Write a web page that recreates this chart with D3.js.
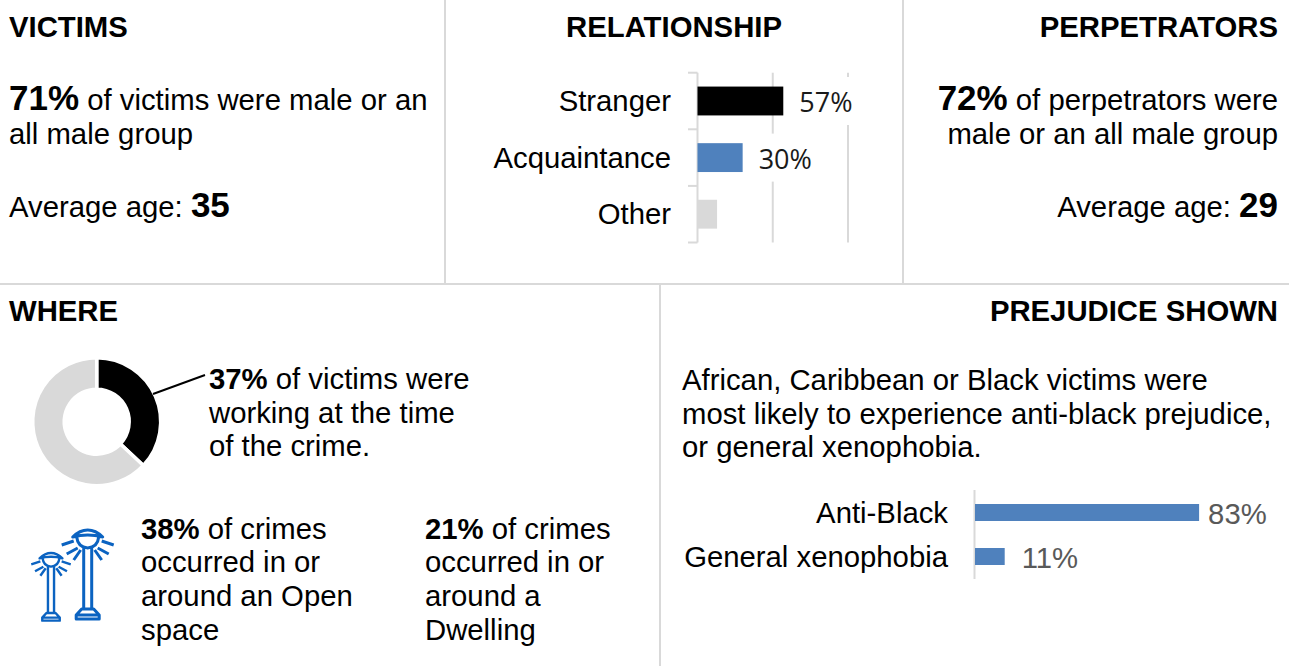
<!DOCTYPE html>
<html>
<head>
<meta charset="utf-8">
<script src="https://cdn.jsdelivr.net/npm/d3@7"></script>
<style>
html,body{margin:0;padding:0;background:#fff}
svg{display:block}
text{font-family:"Liberation Sans",Arial,sans-serif;fill:#000}
</style>
</head>
<body>
<svg id="chart" width="1289" height="666"></svg>
<script>
// Relationship between victim and perpetrator (share of cases)
const relationCategories = ["Stranger", "Acquaintance", "Other"];
const relationValues = [57, 30, 13];
const relationLabels = ["57%", "30%", null];
const relationColors = ["#000000", "#4f81bd", "#d9d9d9"];
const relationTicks = [0, 50, 100];

// Prejudice shown
const prejudiceCategories = ["Anti-Black", "General xenophobia"];
const prejudiceValues = [83, 11];

// Victims working at the time of the crime
const workingValues = [37, 63];
const workingColors = ["#000000", "#d9d9d9"];

const svg = d3.select("#chart");
const ruleColor = "#d9d9d9";
const HEAD = 29.3, BODY = 29.3, BIG = 35;

// Panel dividers
[[445, 0, 445, 284], [903, 0, 903, 284], [0, 284, 1289, 284], [660, 284, 660, 666]].forEach(([x1, y1, x2, y2]) => {
  svg.append("line").attr("x1", x1).attr("y1", y1).attr("x2", x2).attr("y2", y2)
    .attr("stroke", ruleColor).attr("stroke-width", 2);
});

// Writes one line of mixed runs: [text, bold, size]
function line(x, y, anchor, runs) {
  const t = svg.append("text").attr("x", x).attr("y", y + 0.5).attr("text-anchor", anchor);
  runs.forEach(([s, bold, size]) => {
    t.append("tspan").text(s)
      .attr("font-weight", bold ? "bold" : "normal")
      .attr("font-size", size || BODY);
  });
  return t;
}

// Panel headings
line(9, 36, "start", [["VICTIMS", true, HEAD]]);
line(674, 36, "middle", [["RELATIONSHIP", true, HEAD]]);
line(1278, 36, "end", [["PERPETRATORS", true, HEAD]]);
line(9, 320, "start", [["WHERE", true, HEAD]]);
line(1278, 320, "end", [["PREJUDICE SHOWN", true, HEAD]]);

// Victims panel
line(9, 109, "start", [["71%", true, BIG], [" of victims were male or an"]]);
line(9, 143, "start", [["all male group"]]);
line(9, 216, "start", [["Average age: "], ["35", true, BIG]]);

// Perpetrators panel
line(1278, 109, "end", [["72%", true, BIG], [" of perpetrators were"]]);
line(1278, 143, "end", [["male or an all male group"]]);
line(1278, 216, "end", [["Average age: "], ["29", true, BIG]]);

// Relationship bars
const relX = d3.scaleLinear().domain([0, 100]).range([697.5, 848]);
const relY = d3.scaleBand().domain(relationCategories).range([72.7, 242.5]).paddingInner(0.49).paddingOuter(0.245);

relationTicks.forEach(t => {
  svg.append("line").attr("x1", relX(t)).attr("x2", relX(t))
    .attr("y1", relY.range()[0]).attr("y2", relY.range()[1])
    .attr("stroke", ruleColor).attr("stroke-width", 2);
});
d3.range(relationCategories.length + 1).forEach(i => {
  const y = relY.range()[0] + i * (relY.range()[1] - relY.range()[0]) / relationCategories.length;
  svg.append("line").attr("x1", 688).attr("x2", relX(0)).attr("y1", y).attr("y2", y)
    .attr("stroke", ruleColor).attr("stroke-width", 2);
});

svg.selectAll(".rel-bar").data(relationValues).join("rect")
  .attr("class", "rel-bar")
  .attr("x", relX(0))
  .attr("y", (d, i) => relY(relationCategories[i]))
  .attr("width", d => relX(d) - relX(0))
  .attr("height", relY.bandwidth())
  .attr("fill", (d, i) => relationColors[i]);

relationCategories.forEach((c, i) => {
  const cy = relY(c) + relY.bandwidth() / 2;
  svg.append("text").attr("x", 671).attr("y", cy + 10).attr("text-anchor", "end")
    .attr("font-size", BODY).text(c);
  if (relationLabels[i]) {
    const x = relX(relationValues[i]) + 16;
    svg.append("rect").attr("x", x - 1).attr("y", cy - 24).attr("width", 58).attr("height", 48).attr("fill", "#fff");
    svg.append("text").attr("x", x).attr("y", cy + 11)
      .attr("font-size", 27).style("font-family", "'Open Sans'").style("fill", "#1a1a1a")
      .text(relationLabels[i]);
  }
});

// Donut of victims at work
const donutCx = 96.7, donutCy = 421.7;
const arc = d3.arc().innerRadius(32.5).outerRadius(64);
const pie = d3.pie().sort(null);
svg.append("g").attr("transform", `translate(${donutCx},${donutCy})`)
  .selectAll("path").data(pie(workingValues)).join("path")
  .attr("d", arc)
  .attr("fill", (d, i) => workingColors[i])
  .attr("stroke", "#fff").attr("stroke-width", 3.5);
svg.append("line").attr("x1", 153).attr("y1", 394).attr("x2", 205).attr("y2", 375)
  .attr("stroke", "#000").attr("stroke-width", 2);

line(209, 388, "start", [["37%", true], [" of victims were"]]);
line(209, 422, "start", [["working at the time"]]);
line(209, 455, "start", [["of the crime."]]);

// Street-lamp pictogram
function lamp(cx, top, k, weight) {
  const g = svg.append("g").attr("transform", `translate(${cx},${top}) scale(${k})`)
    .attr("fill", "none").attr("stroke", "#0b63c1").attr("stroke-width", weight / k).attr("stroke-linejoin", "round");
  const p = d3.path();
  // hood
  p.moveTo(-15, 7); p.quadraticCurveTo(-8, 0, 0, 0); p.quadraticCurveTo(8, 0, 15, 7);
  p.quadraticCurveTo(0, 3, -15, 7); p.closePath();
  // bowl
  p.moveTo(-11, 7); p.quadraticCurveTo(-10, 17, 0, 18); p.quadraticCurveTo(10, 17, 11, 7);
  // pole
  p.moveTo(-4, 18); p.lineTo(-4, 78); p.moveTo(4, 18); p.lineTo(4, 78);
  // base
  p.moveTo(-6, 79); p.lineTo(6, 79); p.lineTo(11.5, 85); p.lineTo(11.5, 89); p.lineTo(-11.5, 89); p.lineTo(-11.5, 85); p.closePath();
  p.moveTo(-11, 85); p.lineTo(11, 85);
  // rays
  [[-14, 11, -26, 15], [-10, 18, -21, 24], [-7, 20, -14, 30], [14, 11, 26, 15], [10, 18, 21, 24], [7, 20, 14, 30]].forEach(([a, b, c, d]) => {
    p.moveTo(a, b); p.lineTo(c, d);
  });
  g.append("path").attr("d", p.toString());
}
lamp(87.7, 530, 1, 3);
lamp(51, 553, 0.76, 2.4);

line(141, 538, "start", [["38%", true], [" of crimes"]]);
line(141, 571, "start", [["occurred in or"]]);
line(141, 605, "start", [["around an Open"]]);
line(141, 639, "start", [["space"]]);

line(425, 538, "start", [["21%", true], [" of crimes"]]);
line(425, 571, "start", [["occurred in or"]]);
line(425, 605, "start", [["around a"]]);
line(425, 639, "start", [["Dwelling"]]);

// Prejudice panel
line(682, 389, "start", [["African, Caribbean or Black victims were"]]);
line(682, 423, "start", [["most likely to experience anti-black prejudice,"]]);
line(682, 456, "start", [["or general xenophobia."]]);

const preX = d3.scaleLinear().domain([0, 100]).range([975, 1245]);
const preY = d3.scalePoint().domain(prejudiceCategories).range([512.5, 556.5]);

svg.append("line").attr("x1", 974.5).attr("x2", 974.5).attr("y1", 490).attr("y2", 579)
  .attr("stroke", ruleColor).attr("stroke-width", 2);
svg.selectAll(".pre-bar").data(prejudiceValues).join("rect")
  .attr("class", "pre-bar")
  .attr("x", preX(0))
  .attr("y", (d, i) => preY(prejudiceCategories[i]) - 8.5)
  .attr("width", d => preX(d) - preX(0))
  .attr("height", 17)
  .attr("fill", "#4f81bd");
prejudiceCategories.forEach((c, i) => {
  const cy = preY(c);
  svg.append("text").attr("x", 948).attr("y", cy + 10).attr("text-anchor", "end")
    .attr("font-size", BODY).text(c);
  svg.append("text").attr("x", preX(prejudiceValues[i]) + 9 + (i ? 8 : 0)).attr("y", cy + 11)
    .attr("font-size", BODY).style("fill", "#595959").text(prejudiceValues[i] + "%");
});
</script>
</body>
</html>
